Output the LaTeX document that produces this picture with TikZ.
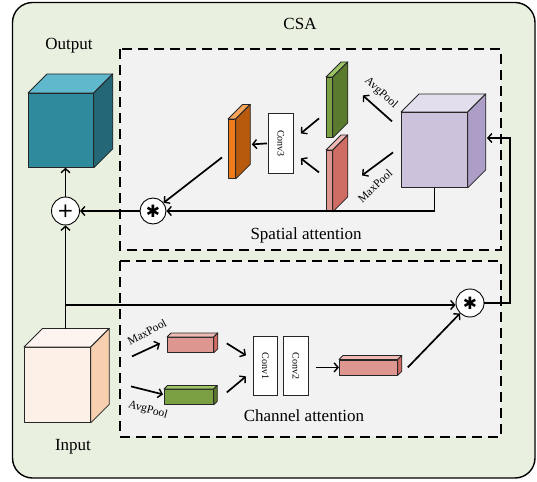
\documentclass[tikz,border=0pt]{standalone}
\usepackage{fontspec}
\setmainfont{Liberation Serif}
\newfontfamily\symfont{DejaVu Sans}
\usetikzlibrary{arrows.meta}
\definecolor{bgGreen}{HTML}{E9F0DF}
\definecolor{boxGray}{HTML}{F2F2F2}
\definecolor{outFront}{HTML}{2E8A9C}
\definecolor{outTop}{HTML}{60B8CD}
\definecolor{outSide}{HTML}{246877}
\definecolor{inFront}{HTML}{FDF0E7}
\definecolor{inTop}{HTML}{FEF4EF}
\definecolor{inSide}{HTML}{F8CFAF}
\definecolor{puFront}{HTML}{CCC2DC}
\definecolor{puTop}{HTML}{E3DEEE}
\definecolor{puSide}{HTML}{AC9EC6}
\definecolor{orFront}{HTML}{F07B1A}
\definecolor{orTop}{HTML}{F6A55A}
\definecolor{orSide}{HTML}{B85A0E}
\definecolor{grFront}{HTML}{7BA044}
\definecolor{grTop}{HTML}{9CC464}
\definecolor{grSide}{HTML}{5A7A2E}
\definecolor{rdFront}{HTML}{DE9690}
\definecolor{rdTop}{HTML}{F0BAB4}
\definecolor{rdSide}{HTML}{CF6C64}
\tikzset{
  facestyle/.style={draw=black!85, line width=0.8pt, line join=round},
  cubefront/.style={facestyle, inner sep=0pt, anchor=north west},
  convbox/.style={draw=black!85, fill=white, line width=0.8pt, inner sep=0pt, anchor=north west},
  opcircle/.style={circle, draw=black, fill=white, line width=0.9pt, minimum size=28pt, inner sep=0pt},
  conn/.style={line width=1.7pt, draw=black},
  arr/.style={conn, -{Straight Barb[length=4pt,width=9pt,line width=1.4pt]}},
  dashedbox/.style={line width=1.8pt, dash pattern=on 10pt off 6pt, fill=boxGray},
  lbl/.style={font=\fontsize{17}{20}\selectfont},
  small/.style={font=\fontsize{10}{12}\selectfont},
  pool/.style={font=\fontsize{11.5}{13}\selectfont},
}
\newcommand\boxfaces[4]{%
  \draw[facestyle, fill=#3] (#1.north west) -- ([shift={(#2,-#2)}]#1.north west)
    -- ([shift={(#2,-#2)}]#1.north east) -- (#1.north east) -- cycle;
  \draw[facestyle, fill=#4] (#1.north east) -- ([shift={(#2,-#2)}]#1.north east)
    -- ([shift={(#2,-#2)}]#1.south east) -- (#1.south east) -- cycle;}
\begin{document}
\begin{tikzpicture}[x=1pt,y=-1pt]
\useasboundingbox (0,0) rectangle (537,481);
% frames
\draw[line width=1.4pt, fill=bgGreen, rounded corners=20pt] (12.5,2.5) rectangle (535,478);
\draw[dashedbox] (120,49) rectangle (501,250);
\draw[dashedbox] (120,261) rectangle (501,437);
% titles
\node[lbl] (tcsa) at (300,24) {CSA};
\node[lbl] (tout) at (69,46) {Output};
\node[lbl] (tin) at (73,447) {Input};
\node[lbl] (tsp) at (306,235) {Spatial attention};
\node[lbl] (tch) at (304,416) {Channel attention};
% cubes
\node[cubefront, fill=outFront, minimum width=65pt, minimum height=74pt] (out) at (28,93) {};
\boxfaces{out}{19}{outTop}{outSide}
\node[cubefront, fill=inFront, minimum width=66pt, minimum height=75pt] (in) at (24,347) {};
\boxfaces{in}{18.5}{inTop}{inSide}
\node[cubefront, fill=puFront, minimum width=66pt, minimum height=75pt] (pc) at (401,112) {};
\boxfaces{pc}{18}{puTop}{puSide}
% slabs (spatial)
\node[cubefront, fill=orFront, minimum width=7pt, minimum height=59pt] (os) at (228,119) {};
\boxfaces{os}{14.5}{orTop}{orSide}
\node[cubefront, fill=grFront, minimum width=6pt, minimum height=60pt] (gs) at (326,77) {};
\boxfaces{gs}{15}{grTop}{grSide}
\node[cubefront, fill=rdFront, minimum width=6pt, minimum height=61pt] (rs) at (326,150) {};
\boxfaces{rs}{15}{rdTop}{rdSide}
% bars (channel)
\node[cubefront, fill=rdFront, minimum width=46pt, minimum height=15pt] (rb) at (167,337) {};
\boxfaces{rb}{4}{rdTop}{rdSide}
\node[cubefront, fill=grFront, minimum width=49pt, minimum height=15pt] (gb) at (164,389) {};
\boxfaces{gb}{3.5}{grTop}{grSide}
\node[cubefront, fill=rdFront, minimum width=58pt, minimum height=15pt] (rb2) at (339,359.5) {};
\boxfaces{rb2}{4}{rdTop}{rdSide}
% conv boxes
\node[convbox, minimum width=25pt, minimum height=60pt] (c3) at (268,113) {};
\node[small, rotate=-90] (c3t) at (c3.center) {Conv3};
\node[convbox, minimum width=24pt, minimum height=59pt] (c1) at (253,336) {};
\node[small, rotate=-90] (c1t) at (c1.center) {Conv1};
\node[convbox, minimum width=25pt, minimum height=59pt] (c2) at (283,336) {};
\node[small, rotate=-90] (c2t) at (c2.center) {Conv2};
% operators
\node[opcircle] (plus) at (65.5,211) {\symfont\fontsize{20}{20}\selectfont +};
\node[opcircle, minimum size=26pt] (star1) at (153,211) {\symfont\fontsize{17}{17}\selectfont ✱};
\node[opcircle] (star2) at (470,303) {\symfont\fontsize{17}{17}\selectfont ✱};
% pool labels
\node[pool, rotate=-42] (lavg1) at (381,93) {AvgPool};
\node[pool, rotate=43] (lmax1) at (375,186) {MaxPool};
\node[pool, rotate=28] (lmax2) at (147,332) {MaxPool};
\node[pool, rotate=-16] (lavg2) at (148,410) {AvgPool};
% connectors (spatial)
\coordinate (inTopPt) at (65.5,329);
\coordinate (br) at (65.5,305);
\draw[conn] (inTopPt) -- (br);
\draw[arr] (br) -- (plus);
\draw[arr] (br) -- (br -| star2.west);
\draw[arr] (plus) -- (plus |- out.south);
\draw[arr] (star1) -- (plus);
\draw[arr] ([shift={(-6,8.5)}]os.west) -- (star1);
\draw[arr] ([xshift=-1pt]c3.west) -- ([shift={(16,-4.5)}]os.east);
\draw[arr] ([shift={(-7,11)}]gs.west) -- ([shift={(7,-10)}]c3.east);
\draw[arr] ([shift={(-7,-8.5)}]rs.west) -- ([shift={(7,15)}]c3.east);
\draw[arr] ([shift={(-9,-28.5)}]pc.west) -- ([shift={(30,-12)}]gs.east);
\draw[arr] ([shift={(-8,2.5)}]pc.west) -- ([shift={(36,-5.5)}]rs.west);
\draw[arr] (pc.south) |- (star1);
\coordinate (loopR) at (510,138);
\coordinate (pcSide) at (487,138);
\draw[arr] (star2.east) -| (loopR) -- (pcSide);
% channel connectors
\draw[arr] ([shift={(-35,11.5)}]rb.west) -- ([shift={(-7,-1.5)}]rb.west);
\draw[arr] ([shift={(-33,-10.5)}]gb.west) -- ([shift={(-1,-2.5)}]gb.west);
\draw[arr] ([shift={(13,-1.5)}]rb.east) -- ([shift={(-7,-10.5)}]c1.west);
\draw[arr] ([shift={(13,-4.5)}]gb.east) -- ([shift={(-7,10.5)}]c1.west);
\draw[arr] ([xshift=7pt]c2.east |- rb2.west) -- (rb2.west);
\draw[arr] ([xshift=10pt]rb2.east) -- (star2);
\end{tikzpicture}
\end{document}
